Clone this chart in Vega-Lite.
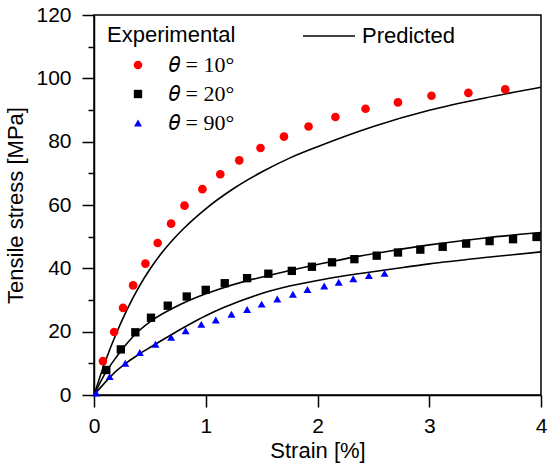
{
  "$schema": "https://vega.github.io/schema/vega-lite/v6.json",
  "width": 447,
  "height": 380,
  "autosize": {"type": "none"},
  "padding": {"left": 94, "top": 15, "right": 9, "bottom": 75},
  "background": "white",
  "config": {
    "view": {"stroke": "black", "strokeWidth": 1.5},
    "axis": {
      "grid": false,
      "domainColor": "black",
      "domainWidth": 1.5,
      "tickColor": "black",
      "tickWidth": 1.5,
      "labelFont": "Liberation Sans",
      "labelFontSize": 21,
      "labelColor": "black",
      "labelOverlap": false,
      "titleFont": "Liberation Sans",
      "titleFontSize": 22,
      "titleFontWeight": "normal",
      "titleColor": "black"
    },
    "legend": {
      "padding": 0,
      "titleFont": "Liberation Sans",
      "titleFontSize": 22,
      "titleFontWeight": "normal",
      "titleColor": "black",
      "labelColor": "black"
    }
  },
  "datasets": {
    "points": [
      {"series": "𝜃 = 10°", "strain": 0.08, "stress": 10.7},
      {"series": "𝜃 = 10°", "strain": 0.18, "stress": 19.9},
      {"series": "𝜃 = 10°", "strain": 0.26, "stress": 27.5},
      {"series": "𝜃 = 10°", "strain": 0.35, "stress": 34.6},
      {"series": "𝜃 = 10°", "strain": 0.46, "stress": 41.5},
      {"series": "𝜃 = 10°", "strain": 0.57, "stress": 48.0},
      {"series": "𝜃 = 10°", "strain": 0.69, "stress": 54.1},
      {"series": "𝜃 = 10°", "strain": 0.81, "stress": 59.8},
      {"series": "𝜃 = 10°", "strain": 0.97, "stress": 65.0},
      {"series": "𝜃 = 10°", "strain": 1.13, "stress": 69.7},
      {"series": "𝜃 = 10°", "strain": 1.30, "stress": 74.1},
      {"series": "𝜃 = 10°", "strain": 1.49, "stress": 78.0},
      {"series": "𝜃 = 10°", "strain": 1.70, "stress": 81.6},
      {"series": "𝜃 = 10°", "strain": 1.92, "stress": 84.8},
      {"series": "𝜃 = 10°", "strain": 2.16, "stress": 87.8},
      {"series": "𝜃 = 10°", "strain": 2.43, "stress": 90.4},
      {"series": "𝜃 = 10°", "strain": 2.72, "stress": 92.4},
      {"series": "𝜃 = 10°", "strain": 3.02, "stress": 94.5},
      {"series": "𝜃 = 10°", "strain": 3.35, "stress": 95.4},
      {"series": "𝜃 = 10°", "strain": 3.68, "stress": 96.5},
      {"series": "𝜃 = 20°", "strain": 0.11, "stress": 7.9},
      {"series": "𝜃 = 20°", "strain": 0.24, "stress": 14.4},
      {"series": "𝜃 = 20°", "strain": 0.37, "stress": 19.8},
      {"series": "𝜃 = 20°", "strain": 0.51, "stress": 24.4},
      {"series": "𝜃 = 20°", "strain": 0.66, "stress": 28.2},
      {"series": "𝜃 = 20°", "strain": 0.83, "stress": 31.1},
      {"series": "𝜃 = 20°", "strain": 1.00, "stress": 33.2},
      {"series": "𝜃 = 20°", "strain": 1.17, "stress": 35.3},
      {"series": "𝜃 = 20°", "strain": 1.37, "stress": 36.9},
      {"series": "𝜃 = 20°", "strain": 1.56, "stress": 38.3},
      {"series": "𝜃 = 20°", "strain": 1.77, "stress": 39.2},
      {"series": "𝜃 = 20°", "strain": 1.95, "stress": 40.5},
      {"series": "𝜃 = 20°", "strain": 2.13, "stress": 41.9},
      {"series": "𝜃 = 20°", "strain": 2.33, "stress": 42.9},
      {"series": "𝜃 = 20°", "strain": 2.53, "stress": 44.0},
      {"series": "𝜃 = 20°", "strain": 2.72, "stress": 45.0},
      {"series": "𝜃 = 20°", "strain": 2.92, "stress": 45.9},
      {"series": "𝜃 = 20°", "strain": 3.12, "stress": 46.8},
      {"series": "𝜃 = 20°", "strain": 3.33, "stress": 47.8},
      {"series": "𝜃 = 20°", "strain": 3.54, "stress": 48.6},
      {"series": "𝜃 = 20°", "strain": 3.75, "stress": 49.2},
      {"series": "𝜃 = 20°", "strain": 3.96, "stress": 49.9},
      {"series": "𝜃 = 90°", "strain": 0.02, "stress": 0.6},
      {"series": "𝜃 = 90°", "strain": 0.14, "stress": 5.8},
      {"series": "𝜃 = 90°", "strain": 0.28, "stress": 10.0},
      {"series": "𝜃 = 90°", "strain": 0.41, "stress": 13.4},
      {"series": "𝜃 = 90°", "strain": 0.55, "stress": 16.0},
      {"series": "𝜃 = 90°", "strain": 0.69, "stress": 18.2},
      {"series": "𝜃 = 90°", "strain": 0.82, "stress": 20.3},
      {"series": "𝜃 = 90°", "strain": 0.96, "stress": 22.3},
      {"series": "𝜃 = 90°", "strain": 1.09, "stress": 23.7},
      {"series": "𝜃 = 90°", "strain": 1.23, "stress": 25.5},
      {"series": "𝜃 = 90°", "strain": 1.37, "stress": 27.0},
      {"series": "𝜃 = 90°", "strain": 1.50, "stress": 28.7},
      {"series": "𝜃 = 90°", "strain": 1.64, "stress": 30.3},
      {"series": "𝜃 = 90°", "strain": 1.78, "stress": 31.8},
      {"series": "𝜃 = 90°", "strain": 1.91, "stress": 33.3},
      {"series": "𝜃 = 90°", "strain": 2.06, "stress": 34.4},
      {"series": "𝜃 = 90°", "strain": 2.19, "stress": 35.6},
      {"series": "𝜃 = 90°", "strain": 2.32, "stress": 36.7},
      {"series": "𝜃 = 90°", "strain": 2.46, "stress": 37.7},
      {"series": "𝜃 = 90°", "strain": 2.60, "stress": 38.4}
    ],
    "curves": [
      {"curve": "c10", "model": "Predicted", "strain": 0, "stress": 0},
      {"curve": "c10", "model": "Predicted", "strain": 0.1, "stress": 10.5},
      {"curve": "c10", "model": "Predicted", "strain": 0.2, "stress": 19.5},
      {"curve": "c10", "model": "Predicted", "strain": 0.3, "stress": 27.3},
      {"curve": "c10", "model": "Predicted", "strain": 0.4, "stress": 34.0},
      {"curve": "c10", "model": "Predicted", "strain": 0.5, "stress": 39.7},
      {"curve": "c10", "model": "Predicted", "strain": 0.6, "stress": 44.6},
      {"curve": "c10", "model": "Predicted", "strain": 0.7, "stress": 48.8},
      {"curve": "c10", "model": "Predicted", "strain": 0.8, "stress": 52.5},
      {"curve": "c10", "model": "Predicted", "strain": 0.9, "stress": 55.8},
      {"curve": "c10", "model": "Predicted", "strain": 1.0, "stress": 58.8},
      {"curve": "c10", "model": "Predicted", "strain": 1.25, "stress": 65.2},
      {"curve": "c10", "model": "Predicted", "strain": 1.5, "stress": 70.4},
      {"curve": "c10", "model": "Predicted", "strain": 1.75, "stress": 74.8},
      {"curve": "c10", "model": "Predicted", "strain": 2.0, "stress": 78.4},
      {"curve": "c10", "model": "Predicted", "strain": 2.5, "stress": 84.8},
      {"curve": "c10", "model": "Predicted", "strain": 3.0, "stress": 89.9},
      {"curve": "c10", "model": "Predicted", "strain": 3.5, "stress": 93.8},
      {"curve": "c10", "model": "Predicted", "strain": 4.0, "stress": 97.2},
      {"curve": "c20", "model": "Predicted", "strain": 0, "stress": 0},
      {"curve": "c20", "model": "Predicted", "strain": 0.1, "stress": 6.8},
      {"curve": "c20", "model": "Predicted", "strain": 0.2, "stress": 12.0},
      {"curve": "c20", "model": "Predicted", "strain": 0.3, "stress": 16.5},
      {"curve": "c20", "model": "Predicted", "strain": 0.4, "stress": 20.2},
      {"curve": "c20", "model": "Predicted", "strain": 0.5, "stress": 23.1},
      {"curve": "c20", "model": "Predicted", "strain": 0.7, "stress": 27.3},
      {"curve": "c20", "model": "Predicted", "strain": 0.86, "stress": 30.0},
      {"curve": "c20", "model": "Predicted", "strain": 1.0, "stress": 32.0},
      {"curve": "c20", "model": "Predicted", "strain": 1.16, "stress": 33.9},
      {"curve": "c20", "model": "Predicted", "strain": 1.46, "stress": 36.9},
      {"curve": "c20", "model": "Predicted", "strain": 1.75, "stress": 39.3},
      {"curve": "c20", "model": "Predicted", "strain": 2.05, "stress": 41.6},
      {"curve": "c20", "model": "Predicted", "strain": 2.35, "stress": 43.7},
      {"curve": "c20", "model": "Predicted", "strain": 2.65, "stress": 45.5},
      {"curve": "c20", "model": "Predicted", "strain": 3.0, "stress": 47.4},
      {"curve": "c20", "model": "Predicted", "strain": 3.5, "stress": 49.6},
      {"curve": "c20", "model": "Predicted", "strain": 4.0, "stress": 51.3},
      {"curve": "c90", "model": "Predicted", "strain": 0, "stress": 0},
      {"curve": "c90", "model": "Predicted", "strain": 0.1, "stress": 4.0},
      {"curve": "c90", "model": "Predicted", "strain": 0.2, "stress": 7.6},
      {"curve": "c90", "model": "Predicted", "strain": 0.3, "stress": 10.4},
      {"curve": "c90", "model": "Predicted", "strain": 0.4, "stress": 12.8},
      {"curve": "c90", "model": "Predicted", "strain": 0.5, "stress": 15.0},
      {"curve": "c90", "model": "Predicted", "strain": 0.7, "stress": 19.2},
      {"curve": "c90", "model": "Predicted", "strain": 0.86, "stress": 22.4},
      {"curve": "c90", "model": "Predicted", "strain": 1.0, "stress": 25.0},
      {"curve": "c90", "model": "Predicted", "strain": 1.16, "stress": 27.6},
      {"curve": "c90", "model": "Predicted", "strain": 1.46, "stress": 31.6},
      {"curve": "c90", "model": "Predicted", "strain": 1.75, "stress": 34.4},
      {"curve": "c90", "model": "Predicted", "strain": 2.05, "stress": 36.5},
      {"curve": "c90", "model": "Predicted", "strain": 2.35, "stress": 38.2},
      {"curve": "c90", "model": "Predicted", "strain": 2.65, "stress": 39.7},
      {"curve": "c90", "model": "Predicted", "strain": 3.0, "stress": 41.4},
      {"curve": "c90", "model": "Predicted", "strain": 3.5, "stress": 43.4},
      {"curve": "c90", "model": "Predicted", "strain": 4.0, "stress": 45.2}
    ]
  },
  "encoding": {
    "x": {
      "field": "strain",
      "type": "quantitative",
      "title": "Strain [%]",
      "scale": {"domain": [0, 4], "nice": false},
      "axis": {
        "values": [0, 0.5, 1, 1.5, 2, 2.5, 3, 3.5, 4],
        "format": "d",
        "labelExpr": "datum.value % 1 == 0 ? datum.label : ''",
        "labelFlush": false,
        "tickSize": {"condition": {"test": "datum.value % 1 == 0", "value": 12}, "value": 6},
        "labelPadding": 8,
        "titlePadding": 4
      }
    },
    "y": {
      "field": "stress",
      "type": "quantitative",
      "title": "Tensile stress [MPa]",
      "scale": {"domain": [0, 120], "nice": false},
      "axis": {
        "values": [0, 10, 20, 30, 40, 50, 60, 70, 80, 90, 100, 110, 120],
        "labelExpr": "datum.value % 20 == 0 ? datum.label : ''",
        "tickSize": {"condition": {"test": "datum.value % 20 == 0", "value": 12}, "value": 6},
        "labelPadding": 11,
        "titlePadding": 8
      }
    }
  },
  "layer": [
    {
      "data": {"name": "curves"},
      "mark": {"type": "line", "interpolate": "monotone", "strokeWidth": 1.6},
      "encoding": {
        "detail": {"field": "curve"},
        "stroke": {
          "field": "model",
          "type": "nominal",
          "scale": {"range": ["black"]},
          "legend": {
            "title": null,
            "orient": "none",
            "legendX": 208,
            "legendY": -6,
            "symbolType": "stroke",
            "symbolSize": 2704,
            "symbolStrokeWidth": 1.6,
            "symbolStrokeColor": "black",
            "labelFont": "Liberation Sans",
            "labelFontSize": 22,
            "labelOffset": 6
          }
        }
      }
    },
    {
      "data": {"name": "points"},
      "mark": {"type": "point", "filled": true, "opacity": 1},
      "encoding": {
        "color": {
          "field": "series",
          "type": "nominal",
          "scale": {"domain": ["𝜃 = 10°", "𝜃 = 20°", "𝜃 = 90°"], "range": ["#ff0000", "#000000", "#0000ff"]},
          "legend": {
            "title": "Experimental",
            "orient": "none",
            "legendX": 13,
            "legendY": 10,
            "symbolOffset": 20,
            "labelOffset": 20,
            "titlePadding": 7,
            "rowPadding": 7,
            "labelFont": "Liberation Serif",
            "labelFontSize": 22,
            "symbolSize": 70,
            "symbolOpacity": 1
          }
        },
        "shape": {
          "field": "series",
          "type": "nominal",
          "scale": {"domain": ["𝜃 = 10°", "𝜃 = 20°", "𝜃 = 90°"], "range": ["circle", "square", "triangle-up"]}
        },
        "size": {
          "field": "series",
          "type": "nominal",
          "scale": {"domain": ["𝜃 = 10°", "𝜃 = 20°", "𝜃 = 90°"], "range": [75, 64, 130]},
          "legend": null
        }
      }
    }
  ]
}
